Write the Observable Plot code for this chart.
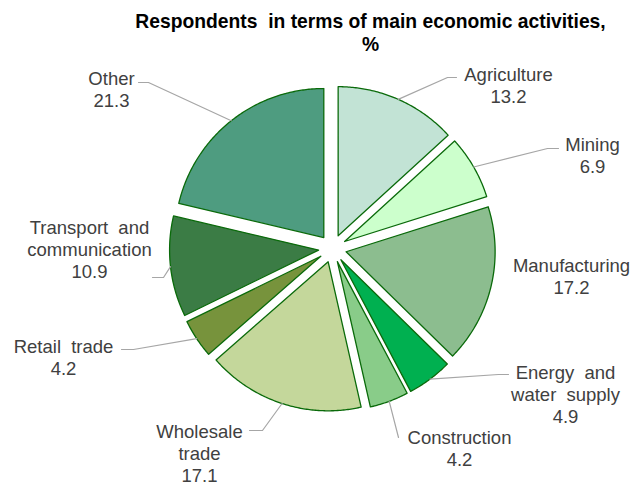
<!DOCTYPE html>
<html><head><meta charset="utf-8">
<script src="https://cdn.jsdelivr.net/npm/d3@7"></script>
<script src="https://cdn.jsdelivr.net/npm/@observablehq/plot@0.6"></script>
<style>body{margin:0;background:#fff} svg{display:block}</style>
</head><body><div id="chart"></div>
<script>
// ---- data ----
const categories = ["Agriculture","Mining","Manufacturing","Energy and\nwater supply","Construction","Wholesale\ntrade","Retail trade","Transport and\ncommunication","Other"];
const values = [13.2, 6.9, 17.2, 4.9, 4.2, 17.1, 4.2, 10.9, 21.3];
const colors = ["#C2E3D5","#CCFFCC","#8CBD8F","#00B050","#89CC89","#C4D79B","#77933C","#3B7C45","#4E9C80"];
const titleLines = ["Respondents\u00A0 in terms of main economic activities,", "%"];

// ---- layout ----
const W = 634, H = 487;
const cx = 332, cy = 248, R = 149, explode = 14;
// label block centres and leader bend points (pixels)
const labelPos = [[508,84],[592,154.5],[571,275],[565,393],[459,447.5],[199,452.5],[63,356],[89,248.5],[111,88]];
const leaderBends = [
  [[447,77],[456,77]],
  [[547,148],[558,148]],
  [],
  [[498,374],[508,374]],
  [[398,437]],
  [[262,430],[249,430]],
  [[133,349],[121,349]],
  [[163,277],[152,277]],
  [[148,82],[138,82]]
];

const rows = categories.map((c,i)=>({name:c, value:values[i], color:colors[i], i}));
const arcs = d3.pie().sort(null).value(d=>d.value)(rows);

const pt = (a, r, ox, oy) => [ox + r*Math.sin(a), oy - r*Math.cos(a)];

const slicePts = [];
const leaderPts = [];
arcs.forEach(a => {
  const mid = (a.startAngle + a.endAngle)/2;
  const [ax, ay] = pt(mid, explode, cx, cy);
  const name = a.data.name;
  slicePts.push({name, color:a.data.color, x:ax, y:ay});
  const n = Math.max(8, Math.ceil((a.endAngle - a.startAngle)/0.01));
  for (let k=0;k<=n;k++){
    const t = a.startAngle + (a.endAngle - a.startAngle)*k/n;
    const [x,y] = pt(t, R, ax, ay);
    slicePts.push({name, color:a.data.color, x, y});
  }
  const bends = leaderBends[a.data.i];
  if (bends.length){
    const [sx, sy] = pt(mid, R, ax, ay);
    leaderPts.push({name, x:sx, y:sy});
    bends.forEach(([x,y]) => leaderPts.push({name, x, y}));
  }
});

const labels = rows.map((d,i)=>({text: d.name + "\n" + d.value.toFixed(1), x: labelPos[i][0], y: labelPos[i][1]}));

const font = "Liberation Sans, Arial, Helvetica, sans-serif";

const chart = Plot.plot({
  width: W, height: H, margin: 0,
  x: {domain:[0,W], range:[0,W], axis:null},
  y: {domain:[0,H], range:[0,H], axis:null},
  color: {type:"identity"},
  style: {fontFamily: font, background:"#fff"},
  marks: [
    Plot.line(slicePts, {x:"x", y:"y", z:"name", fill:"color", stroke:"#0A6A0A", strokeWidth:1.3, curve:"linear-closed", strokeLinejoin:"round"}),
    Plot.line(leaderPts, {x:"x", y:"y", z:"name", stroke:"#A6A6A6", strokeWidth:1.2}),
    Plot.text(labels, {x:"x", y:"y", text:"text", fontSize:18.5, fill:"#404040", lineHeight:1.19, lineAnchor:"middle", textAnchor:"middle", fontFamily:font}),
    Plot.text([titleLines[0]], {x:()=>370, y:()=>21, text:d=>d, fontSize:19.3, fontWeight:"bold", fill:"#000", fontFamily:font}),
    Plot.text([titleLines[1]], {x:()=>370, y:()=>44, text:d=>d, fontSize:19.3, fontWeight:"bold", fill:"#000", fontFamily:font})
  ]
});
const textGroups = chart.querySelectorAll('g[aria-label="text"]');
if (textGroups[0]) textGroups[0].style.wordSpacing = "5px";
document.getElementById("chart").appendChild(chart);
</script>
</body></html>
